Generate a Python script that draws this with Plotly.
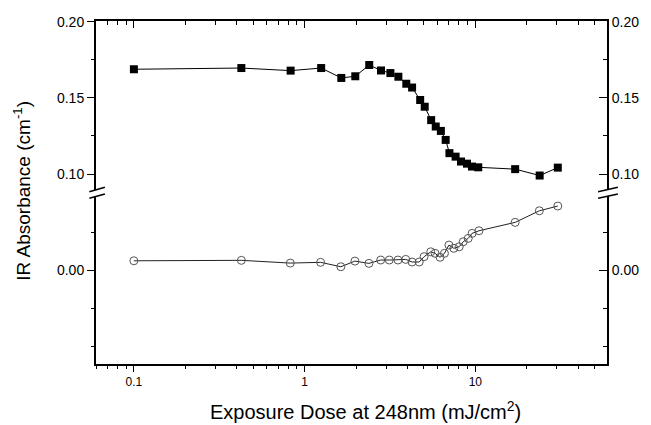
import plotly.graph_objects as go

# Data
dose_sq = [0.1, 0.426, 0.828, 1.25, 1.64, 1.98, 2.39, 2.80, 3.18, 3.54, 3.94, 4.26, 4.75,
           5.05, 5.51, 5.86, 6.28, 6.70, 7.05, 7.66, 8.24, 8.93, 9.55, 10.4, 17.1, 23.8, 30.4]
abs_sq = [0.1688, 0.1696, 0.1679, 0.1696, 0.1631, 0.1642, 0.1716, 0.1680, 0.1663, 0.1639,
          0.1593, 0.1568, 0.1486, 0.1442, 0.1354, 0.1312, 0.1283, 0.1224, 0.1137, 0.1114,
          0.1082, 0.1068, 0.1049, 0.1044, 0.1032, 0.0990, 0.1042]

dose_circ = [0.1, 0.426, 0.824, 1.24, 1.63, 1.97, 2.38, 2.79, 3.13, 3.52, 3.91, 4.26, 4.69,
             5.01, 5.48, 5.81, 6.21, 6.59, 7.00, 7.48, 8.04, 8.49, 9.08, 9.57, 10.5, 17.1, 23.7, 30.4]
abs_circ = [0.0064, 0.0067, 0.0049, 0.0054, 0.0025, 0.0062, 0.0047, 0.0069, 0.0069, 0.0069,
            0.0073, 0.0056, 0.0056, 0.0091, 0.0123, 0.0113, 0.0087, 0.0113, 0.0167, 0.0146,
            0.0156, 0.0189, 0.0211, 0.0244, 0.0261, 0.0316, 0.0392, 0.0423]

x_major = [0.1, 1, 10]
x_major_text = ["0.1", "1", "10"]
x_minor = [m * d for d in (0.01, 0.1, 1, 10) for m in range(2, 10)]

y_up_ticks = [0.10, 0.15, 0.20]
y_up_text = ["0.10", "0.15", "0.20"]
y_up_minor = [0.125, 0.175]
y_lo_ticks = [0.0]
y_lo_text = ["0.00"]
y_lo_minor = [-0.05, -0.025, 0.025]

FONT = "Arial, Liberation Sans, sans-serif"
X_RANGE = [-1.222, 1.771]
Y_UP_RANGE = [0.0895, 0.2005]
Y_LO_RANGE = [-0.0613, 0.0489]
UP_DOM = [0.5073, 1.0]
LO_DOM = [0.0, 0.4898]
YTICKFONT = dict(size=14, color="black", family=FONT)
XTICKFONT = dict(size=12, color="black", family=FONT)

fig = go.Figure()
# invisible companions so that the mirrored (top / right) axes are drawn
for xa, ya, xs, ys in [("x2", "y", dose_sq, abs_sq), ("x", "y3", dose_sq, abs_sq),
                       ("x", "y4", dose_circ, abs_circ)]:
    fig.add_trace(go.Scatter(x=xs, y=ys, xaxis=xa, yaxis=ya, mode="markers",
                             marker=dict(opacity=0), hoverinfo="skip", showlegend=False))

fig.add_trace(go.Scatter(
    x=dose_sq, y=abs_sq, mode="lines+markers", xaxis="x", yaxis="y",
    marker=dict(symbol="square", size=8, color="black"),
    line=dict(color="black", width=1), showlegend=False))
fig.add_trace(go.Scatter(
    x=dose_circ, y=abs_circ, mode="lines+markers", xaxis="x", yaxis="y2",
    marker=dict(symbol="circle-open", size=8, color="#555", line=dict(width=1)),
    line=dict(color="#222", width=1), showlegend=False))

common_x = dict(type="log", range=X_RANGE, showgrid=False, zeroline=False,
                showline=True, linewidth=2, linecolor="black", tickcolor="black",
                tickvals=x_major, ticktext=x_major_text, tickwidth=1, tickfont=XTICKFONT)
common_y = dict(showgrid=False, zeroline=False, showline=True, linewidth=2,
                linecolor="black", tickcolor="black", tickwidth=1, tickfont=YTICKFONT)

fig.update_layout(
    width=651, height=425,
    margin=dict(l=96, r=39, t=21, b=61),
    paper_bgcolor="white", plot_bgcolor="white",
    font=dict(family=FONT, size=12, color="black"),
    xaxis=dict(**common_x, domain=[0, 1], anchor="y2", ticks="outside", ticklen=6,
               minor=dict(tickvals=x_minor, ticks="outside", ticklen=3, tickcolor="black")),
    xaxis2=dict(**common_x, overlaying="x", side="top", anchor="y", ticks="inside",
                ticklen=7, showticklabels=False,
                minor=dict(tickvals=x_minor, ticks="inside", ticklen=4, tickcolor="black")),
    yaxis=dict(**common_y, domain=UP_DOM, range=Y_UP_RANGE, anchor="x", ticks="outside",
               ticklen=7, tickvals=y_up_ticks, ticktext=y_up_text,
               minor=dict(tickvals=y_up_minor, ticks="outside", ticklen=3, tickcolor="black")),
    yaxis2=dict(**common_y, domain=LO_DOM, range=Y_LO_RANGE, anchor="x", ticks="outside",
                ticklen=7, tickvals=y_lo_ticks, ticktext=y_lo_text,
                minor=dict(tickvals=y_lo_minor, ticks="outside", ticklen=3, tickcolor="black")),
    yaxis3=dict(**common_y, overlaying="y", side="right", anchor="x", range=Y_UP_RANGE,
                ticks="inside", ticklen=8, tickvals=y_up_ticks, ticktext=y_up_text,
                minor=dict(tickvals=y_up_minor, ticks="inside", ticklen=4, tickcolor="black")),
    yaxis4=dict(**common_y, overlaying="y2", side="right", anchor="x", range=Y_LO_RANGE,
                ticks="inside", ticklen=8, tickvals=y_lo_ticks, ticktext=y_lo_text,
                minor=dict(tickvals=y_lo_minor, ticks="inside", ticklen=4, tickcolor="black")),
)

# axis-break marks
for x0, x1 in [(-0.013, 0.0174), (0.9826, 1.0213)]:
    for y0, y1 in [(0.5023, 0.5152), (0.4831, 0.4956)]:
        fig.add_shape(type="line", xref="paper", yref="paper", x0=x0, x1=x1, y0=y0, y1=y1,
                      line=dict(color="black", width=1.5))

fig.add_annotation(text="IR Absorbance (cm<sup>-1</sup>)", xref="paper", yref="paper",
                   x=-0.145, y=0.505, textangle=-90, showarrow=False,
                   font=dict(size=19, family=FONT), xanchor="center", yanchor="middle")
fig.add_annotation(text="Exposure Dose at 248nm (mJ/cm<sup>2</sup>)", xref="paper", yref="paper",
                   x=0.527, y=-0.137, showarrow=False,
                   font=dict(size=20, family=FONT), xanchor="center", yanchor="middle")

fig.write_html("out.html", config={"displayModeBar": False},
               post_script="document.body.style.margin='0';")
